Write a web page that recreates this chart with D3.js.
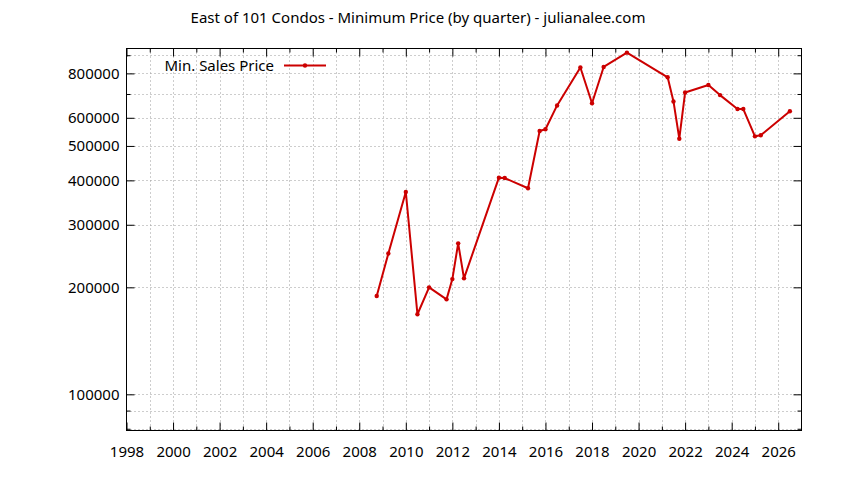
<!DOCTYPE html>
<html><head><meta charset="utf-8">
<script src="https://cdn.jsdelivr.net/npm/d3@7/dist/d3.min.js"></script>
<style>
body{margin:0;background:#fff}
svg text{font-family:"Noto Sans",sans-serif;fill:#000}
</style>
</head><body>
<svg id="chart" width="844" height="480"></svg>
<script>
const chartTitle = "East of 101 Condos - Minimum Price (by quarter) - julianalee.com";
const seriesName = "Min. Sales Price";
const quarters = [2008.75,2009.25,2010.0,2010.5,2011.0,2011.75,2012.0,2012.25,2012.5,
  2014.0,2014.25,2015.25,2015.75,2016.0,2016.5,2017.5,2018.0,2018.5,2019.5,
  2021.25,2021.5,2021.75,2022.0,2023.0,2023.5,2024.25,2024.5,2025.0,2025.25,2026.5];
const minPrice = [189000,249000,371000,168000,200000,185000,211000,266000,212000,
  407000,406000,380000,551000,557000,650000,831000,659000,834000,915000,
  780000,667000,524000,707000,742000,695000,635000,635000,532000,536000,626000];
const xMajorTicks = [1998,2000,2002,2004,2006,2008,2010,2012,2014,2016,2018,2020,2022,2024,2026];
const xMinorTicks = [1999,2001,2003,2005,2007,2009,2011,2013,2015,2017,2019,2021,2023,2025,2027];
const yMajorTicks = [100000,200000,300000,400000,500000,600000,800000];
const yMinorTicks = [80000,90000,700000,900000];
const xDomain = [1998,2027];
const yDomain = [79100,940000];

const L = 126.5, R = 801.5, T = 48.5, B = 430.5;
const svg = d3.select("#chart");
const x = d3.scaleLinear().domain(xDomain).range([L, R]);
const y = d3.scaleLog().domain(yDomain).range([B, T]);
const fs = 15;

// grid
const grid = svg.append("g").attr("stroke","#9a9a9a").attr("stroke-width",1).attr("stroke-dasharray","1,3");
xMajorTicks.concat(xMinorTicks).filter(v => x(v) > L+1 && x(v) < R-1).forEach(v => {
  grid.append("line").attr("x1", Math.round(x(v))+0.5).attr("x2", Math.round(x(v))+0.5).attr("y1", T).attr("y2", B);
});
yMajorTicks.concat(yMinorTicks).filter(v => y(v) > T+1 && y(v) < B-1).forEach(v => {
  grid.append("line").attr("y1", Math.round(y(v))+0.5).attr("y2", Math.round(y(v))+0.5).attr("x1", L).attr("x2", R);
});

function styleAxis(g){
  g.select(".domain").remove();
  g.selectAll(".tick line").attr("stroke","#000");
  g.selectAll(".tick text").attr("font-size", fs).attr("font-family","Noto Sans").attr("fill","#000");
}
// bottom
svg.append("g").attr("transform",`translate(0,${B})`)
  .call(d3.axisBottom(x).tickValues(xMajorTicks).tickSize(-8).tickPadding(16).tickFormat(d3.format("d")))
  .call(styleAxis);
svg.append("g").attr("transform",`translate(0,${B})`)
  .call(d3.axisBottom(x).tickValues(xMinorTicks.filter(v=>v<xDomain[1])).tickSize(-4).tickFormat(""))
  .call(styleAxis);
// top
svg.append("g").attr("transform",`translate(0,${T})`)
  .call(d3.axisTop(x).tickValues(xMajorTicks).tickSize(-8).tickFormat(""))
  .call(styleAxis);
svg.append("g").attr("transform",`translate(0,${T})`)
  .call(d3.axisTop(x).tickValues(xMinorTicks.filter(v=>v<xDomain[1])).tickSize(-4).tickFormat(""))
  .call(styleAxis);
// left
svg.append("g").attr("transform",`translate(${L},0)`)
  .call(d3.axisLeft(y).tickValues(yMajorTicks).tickSize(-8).tickPadding(7).tickFormat(d3.format("d")))
  .call(styleAxis);
svg.append("g").attr("transform",`translate(${L},0)`)
  .call(d3.axisLeft(y).tickValues(yMinorTicks).tickSize(-4).tickFormat(""))
  .call(styleAxis);
// right
svg.append("g").attr("transform",`translate(${R},0)`)
  .call(d3.axisRight(y).tickValues(yMajorTicks).tickSize(-8).tickFormat(""))
  .call(styleAxis);
svg.append("g").attr("transform",`translate(${R},0)`)
  .call(d3.axisRight(y).tickValues(yMinorTicks).tickSize(-4).tickFormat(""))
  .call(styleAxis);

// border
svg.append("rect").attr("x",L).attr("y",T).attr("width",R-L).attr("height",B-T)
  .attr("fill","none").attr("stroke","#000").attr("stroke-width",1);

// series
const red = "#cc0000";
const pts = quarters.map((q,i)=>({x:q, y:minPrice[i]}));
svg.append("path").datum(pts)
  .attr("fill","none").attr("stroke",red).attr("stroke-width",2).attr("stroke-linejoin","round")
  .attr("d", d3.line().x(d=>x(d.x)).y(d=>y(d.y)));
svg.append("g").selectAll("circle").data(pts).join("circle")
  .attr("cx",d=>x(d.x)).attr("cy",d=>y(d.y)).attr("r",2.2).attr("fill",red);

// legend
svg.append("text").attr("x",274).attr("y",70.5).attr("text-anchor","end").attr("font-size",fs).text(seriesName);
svg.append("line").attr("x1",284).attr("x2",326).attr("y1",65.5).attr("y2",65.5).attr("stroke",red).attr("stroke-width",2);
svg.append("circle").attr("cx",305).attr("cy",65.5).attr("r",2.2).attr("fill",red);

// title
svg.append("text").attr("x",418).attr("y",23).attr("text-anchor","middle").attr("font-size",fs).text(chartTitle);
</script>
</body></html>
